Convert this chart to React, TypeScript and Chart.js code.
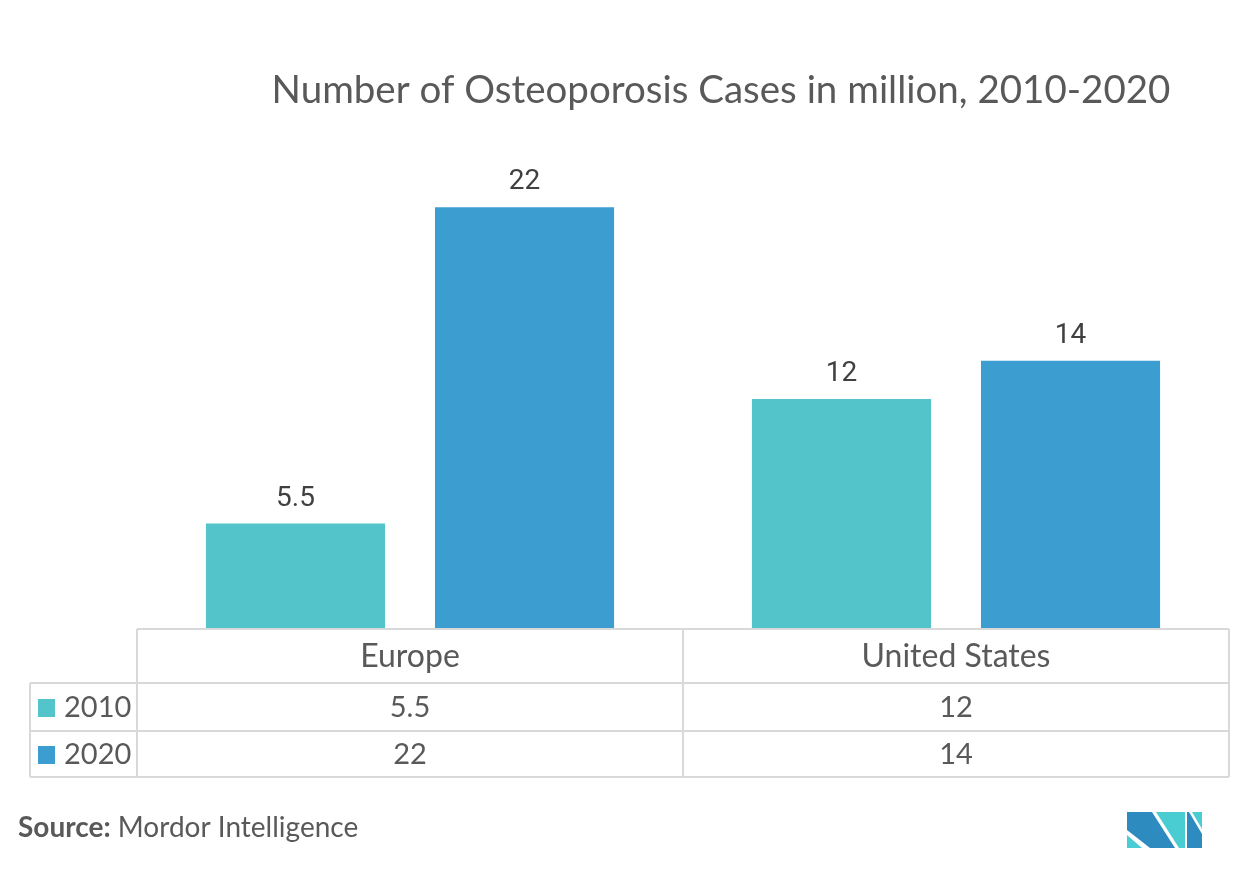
import React, { useEffect, useRef } from "react";
import { Chart, registerables } from "chart.js";

Chart.register(...registerables);

const categories = ["Europe", "United States"];
const seriesNames = ["2010", "2020"];
const values2010 = [5.5, 12];
const values2020 = [22, 14];
const seriesColors = ["#53C4CA", "#3C9DD0"];
const titleText = "Number of Osteoporosis Cases in million, 2010-2020";
const sourceBold = "Source:";
const sourceText = " Mordor Intelligence";

const W = 1255;
const H = 879;

const tablePlugin = {
  id: "tablePlugin",
  afterDraw(chart: any) {
    const ctx = chart.ctx as CanvasRenderingContext2D;
    const area = chart.chartArea;
    const xs = chart.scales.x;
    const left = area.left;
    const right = area.right;
    const mid = (xs.getPixelForTick(0) + xs.getPixelForTick(1)) / 2;
    const top = area.bottom;
    const r1 = top + 54;
    const r2 = r1 + 48;
    const r3 = r2 + 46;
    const legLeft = 30;
    ctx.save();
    ctx.strokeStyle = "#d9d9d9";
    ctx.lineWidth = 2;
    const line = (x1: number, y1: number, x2: number, y2: number) => {
      ctx.beginPath();
      ctx.moveTo(x1, y1);
      ctx.lineTo(x2, y2);
      ctx.stroke();
    };
    line(left, top, right, top);
    line(legLeft, r1, right, r1);
    line(legLeft, r2, right, r2);
    line(legLeft, r3, right, r3);
    line(left, top, left, r3);
    line(mid, top, mid, r3);
    line(right, top, right, r3);
    line(legLeft, r1, legLeft, r3);

    ctx.fillStyle = "#595959";
    ctx.textAlign = "center";
    ctx.textBaseline = "middle";
    ctx.font = "32px Lato";
    categories.forEach((c, i) => {
      const cx = xs.getPixelForTick(i);
      ctx.fillText(c, cx, (top + r1) / 2 + 1);
    });
    const rows = [values2010, values2020];
    const rowMids = [(r1 + r2) / 2 + 1, (r2 + r3) / 2 + 1];
    ctx.font = "29px Lato";
    rows.forEach((vals, ri) => {
      vals.forEach((v, i) => {
        ctx.fillText(String(v), xs.getPixelForTick(i), rowMids[ri]);
      });
      ctx.fillStyle = seriesColors[ri];
      ctx.fillRect(38, rowMids[ri] - 9, 17, 18);
      ctx.fillStyle = "#595959";
      ctx.textAlign = "left";
      ctx.fillText(seriesNames[ri], 64, rowMids[ri]);
      ctx.textAlign = "center";
    });

    // bar value labels
    ctx.fillStyle = "#404040";
    ctx.font = "28px Roboto";
    ctx.textBaseline = "alphabetic";
    chart.data.datasets.forEach((ds: any, di: number) => {
      const meta = chart.getDatasetMeta(di);
      meta.data.forEach((bar: any, i: number) => {
        ctx.fillText(String(ds.data[i]), bar.x, bar.y - 18);
      });
    });

    // title
    ctx.fillStyle = "#595959";
    ctx.font = "38.5px Lato";
    ctx.textAlign = "center";
    ctx.fillText(titleText, 721, 103);

    // source
    ctx.textAlign = "left";
    ctx.font = "bold 28px Lato";
    ctx.fillText(sourceBold, 18, 837);
    const bw = ctx.measureText(sourceBold).width;
    ctx.font = "28px Lato";
    ctx.fillText(sourceText, 18 + bw, 837);

    // logo
    const poly = (pts: number[][], color: string) => {
      ctx.fillStyle = color;
      ctx.beginPath();
      ctx.moveTo(pts[0][0], pts[0][1]);
      for (let k = 1; k < pts.length; k++) ctx.lineTo(pts[k][0], pts[k][1]);
      ctx.closePath();
      ctx.fill();
    };
    const dark = "#2E8BC0";
    const light = "#4ACDD2";
    poly([[1127, 812], [1152, 812], [1175, 848], [1150, 848], [1127, 830]], dark);
    poly([[1127, 835], [1127, 848], [1142, 848]], light);
    poly([[1156, 812], [1185, 812], [1185, 848], [1179, 848]], light);
    poly([[1187, 812], [1189, 812], [1202, 834], [1202, 848], [1187, 848]], dark);
    poly([[1192, 812], [1202, 812], [1202, 829]], light);
    ctx.restore();
  },
};

export default function App() {
  const ref = useRef<HTMLCanvasElement | null>(null);
  useEffect(() => {
    if (!ref.current) return;
    const chart = new Chart(ref.current, {
      type: "bar",
      data: {
        labels: categories,
        datasets: [
          { label: seriesNames[0], data: values2010, backgroundColor: seriesColors[0] },
          { label: seriesNames[1], data: values2020, backgroundColor: seriesColors[1] },
        ],
      },
      options: {
        responsive: false,
        animation: false,
        devicePixelRatio: 1,
        layout: { padding: { left: 137, right: 26, top: 169, bottom: 250 } },
        datasets: { bar: { categoryPercentage: 0.839, barPercentage: 0.782 } },
        scales: {
          x: { display: false, offset: true },
          y: { display: false, min: 0, max: 24 },
        },
        plugins: {
          legend: { display: false },
          title: { display: false },
          tooltip: { enabled: false },
        },
      },
      plugins: [tablePlugin],
    });
    return () => chart.destroy();
  }, []);
  return (
    <div style={{ position: "absolute", left: 0, top: 0, width: W, height: H, background: "#fff" }}>
      <canvas ref={ref} width={W} height={H} style={{ display: "block" }} />
    </div>
  );
}
